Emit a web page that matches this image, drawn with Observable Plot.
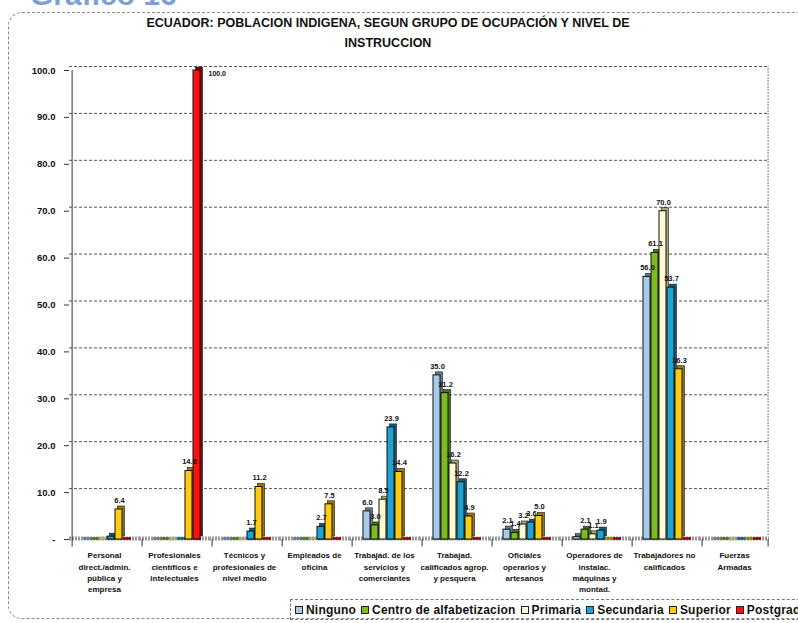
<!DOCTYPE html>
<html lang="es">
<head>
<meta charset="utf-8">
<script src="https://cdn.jsdelivr.net/npm/d3@7"></script>
<script src="https://cdn.jsdelivr.net/npm/@observablehq/plot@0.6"></script>
<style>
  html, body { margin: 0; padding: 0; background: #fff; }
  body { width: 798px; height: 623px; position: relative; overflow: hidden;
         font-family: "Liberation Sans", Arial, sans-serif; }
  #num { position: absolute; left: 30px; top: -20px; font-size: 30px; line-height: 1;
         color: #7f9fd2; font-weight: bold; white-space: nowrap; }
  #frame { position: absolute; left: 8px; top: 12px; width: 830px; height: 607px;
           border: 1px dashed #8a8a8a; border-radius: 14px; box-sizing: border-box; pointer-events: none; }
  #title { position: absolute; left: 0; top: 13px; width: 776px; text-align: center;
           font-weight: bold; font-size: 12.5px; line-height: 20px; color: #111; }
  #chart { position: absolute; left: 0; top: 55px; }
  #legend { position: absolute; left: 290px; top: 599px; height: 21px; width: 560px;
            border: 1px dashed #777; box-sizing: border-box; display: flex; align-items: center;
            padding-left: 4px; font-size: 12px; letter-spacing: 0.2px; font-weight: bold;
            color: #111; white-space: nowrap; }
  #legend .sw { display: inline-block; width: 6px; height: 6px; border: 1px solid #222;
                margin-right: 3px; }
  #legend .it { display: inline-flex; align-items: center; margin-right: 5px; }
</style>
</head>
<body>
<div id="num">Gráfico 16</div>
<div id="frame"></div>
<div id="title">ECUADOR: POBLACION INDIGENA, SEGUN GRUPO DE OCUPACIÓN Y NIVEL DE<br>INSTRUCCION</div>
<div id="chart"></div>
<div id="legend"></div>
<script>
// Occupation groups (x facets) and their wrapped axis labels
const groups = [
  "Personal direct./admin. pública y empresa",
  "Profesionales científicos e intelectuales",
  "Técnicos y profesionales de nivel medio",
  "Empleados de oficina",
  "Trabajad. de los servicios y comerciantes",
  "Trabajad. calificados agrop. y pesquera",
  "Oficiales operarios y artesanos",
  "Operadores de instalac. máquinas y montad.",
  "Trabajadores no calificados",
  "Fuerzas Armadas"
];
const groupLabels = [
  "Personal\ndirect./admin.\npública y\nempresa",
  "Profesionales\ncientíficos e\nintelectuales",
  "Técnicos y\nprofesionales de\nnivel medio",
  "Empleados de\noficina",
  "Trabajad. de los\nservicios y\ncomerciantes",
  "Trabajad.\ncalificados agrop.\ny pesquera",
  "Oficiales\noperarios y\nartesanos",
  "Operadores de\ninstalac.\nmáquinas y\nmontad.",
  "Trabajadores no\ncalificados",
  "Fuerzas\nArmadas"
];

// Education levels (series) and their colours
const levels = ["Ninguno", "Centro de alfabetizacion", "Primaria", "Secundaria", "Superior", "Postgrado"];
const frontColors = ["#a8cbea", "#7dbb1f", "#fdfbd3", "#1ea3d3", "#ffcc11", "#ff1010"];
const sideColors  = ["#5f7f9c", "#4a7410", "#aaa67a", "#0e5f80", "#9a7a00", "#8a0000"];

// Percentages per group, one array per level
const ninguno    = [0,   0,    0,    0,   6.0,  35.0, 2.1, 0.5, 56.0, 0];
const centro     = [0,   0,    0,    0,   3.0,  31.2, 1.4, 2.1, 61.1, 0];
const primaria   = [0,   0,    0,    0,   8.5,  16.2, 3.2, 1.1, 70.0, 0];
const secundaria = [0.6, 0,    1.7,  2.7, 23.9, 12.2, 3.6, 1.9, 53.7, 0];
const superior   = [6.4, 14.6, 11.2, 7.5, 14.4, 4.9,  5.0, 0,   36.3, 0];
const postgrado  = [0,   100.0, 0,   0,   0,    0,    0,   0,   0,    0];

const yTicks = [0, 10, 20, 30, 40, 50, 60, 70, 80, 90, 100];

const series = [ninguno, centro, primaria, secundaria, superior, postgrado];
const rows = groups.flatMap((g, i) => levels.map((l, j) => ({
  group: g, level: l, value: series[j][i], front: frontColors[j], side: sideColors[j]
})));
const bars = rows.filter(d => d.value > 0);
const labelled = bars.filter(d => d.value >= 1 && d.value < 100);
const topLabel = bars.filter(d => d.value >= 100);

// Layout of the plot
const W = 798, H = 545, mL = 68, mR = 29, mT = 15, mB = 61;
const P = 0.97, A = 0.64;
const fw = (W - mL - mR) / groups.length;
// inner band layout, used to put the group boundary ticks at facet edges
const xb = d3.scaleBand(levels, [0, fw]).paddingInner(0).paddingOuter(P).align(A);
const leftOff = xb(levels[0]) + xb.bandwidth() / 2;
const rightOff = fw - (xb(levels[levels.length - 1]) + xb.bandwidth() / 2);
const first = levels[0], last = levels[levels.length - 1];

const fontBold = {fontWeight: "bold", fill: "#111"};

const chart = Plot.plot({
  width: W, height: H,
  marginLeft: mL, marginRight: mR, marginTop: mT, marginBottom: mB,
  style: {background: "none", fontFamily: "'Liberation Sans', Arial, sans-serif", overflow: "visible"},
  fx: {domain: groups, padding: 0, label: null},
  x: {domain: levels, paddingInner: 0, paddingOuter: P, align: A, axis: null},
  y: {domain: [0, 100], axis: null},
  color: {type: "identity"},
  marks: [
    // back-wall grid lines
    Plot.gridY(yTicks.slice(1), {stroke: "#555", strokeOpacity: 1, strokeDasharray: "3,2", dy: -4}),
    // floor
    Plot.ruleY([0], {stroke: "#9a9a9a", strokeWidth: 4, strokeDasharray: "2,1", dy: -1}),
    Plot.tickY(rows, {fx: "group", x: "level", y: () => 0, stroke: "side", strokeWidth: 2.5, dy: -1}),
    // right wall edge
    Plot.ruleX([groups[groups.length - 1]], {fx: d => d, x: () => last, dx: rightOff, y1: 0, y2: 100,
      stroke: "#777", strokeDasharray: "2,1", dy: -4}),
    // column depth and faces
    Plot.barY(bars, {fx: "group", x: "level", y: "value", fill: "side", dx: 2.5, dy: -3,
      stroke: "#111", strokeWidth: 0.6, insetRight: 1}),
    Plot.barY(bars, {fx: "group", x: "level", y: "value", fill: "front",
      stroke: "#111", strokeWidth: 1, insetRight: 1}),
    // value labels
    Plot.text(labelled, {fx: "group", x: "level", y: "value", text: d => d.value.toFixed(1),
      dy: -9, fontSize: 7.5, ...fontBold}),
    Plot.text(topLabel, {fx: "group", x: "level", y: "value", text: d => d.value.toFixed(1),
      dx: 11, dy: 3, textAnchor: "start", fontSize: 7, ...fontBold}),
    // y axis line and ticks
    Plot.ruleX([groups[0]], {fx: d => d, x: () => first, dx: -leftOff, y1: 0, y2: 100, stroke: "#333"}),
    Plot.axisY({ticks: yTicks, tickFormat: d => d === 0 ? "-" : d.toFixed(1), tickSize: 5,
      tickPadding: 9, fontSize: 9.5, label: null, stroke: "#333", ...fontBold}),
    // group boundary ticks
    Plot.ruleX(groups, {fx: d => d, x: () => first, dx: -leftOff, y1: 0, y2: -1.6, stroke: "#333"}),
    Plot.ruleX([groups[groups.length - 1]], {fx: d => d, x: () => last, dx: rightOff, y1: 0, y2: -1.6, stroke: "#333"}),
    // group labels
    Plot.axisFx({anchor: "bottom", tickSize: 0, tickPadding: 11, fontSize: 8, lineHeight: 1.4,
      label: null, tickFormat: g => groupLabels[groups.indexOf(g)], ...fontBold})
  ]
});
document.getElementById("chart").append(chart);

// legend
const legend = document.getElementById("legend");
levels.forEach((l, j) => {
  const it = document.createElement("span");
  it.className = "it";
  const sw = document.createElement("span");
  sw.className = "sw";
  sw.style.background = frontColors[j];
  it.append(sw, document.createTextNode(l));
  legend.append(it);
});
</script>
</body>
</html>
